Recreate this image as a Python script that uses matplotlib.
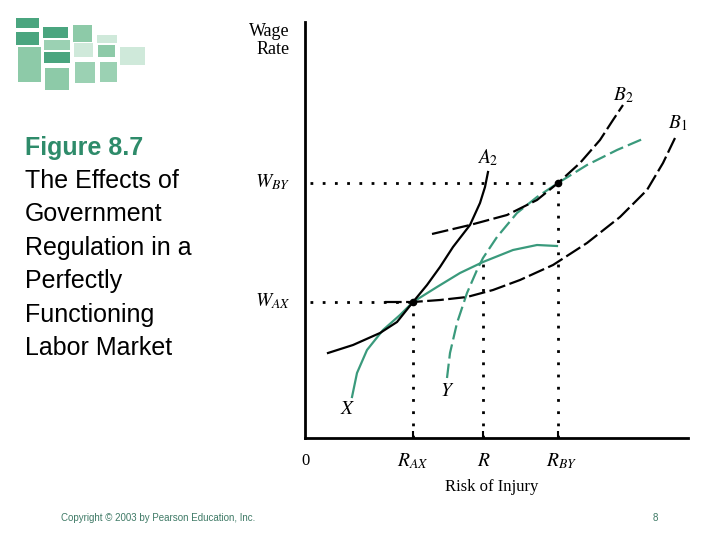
import matplotlib
matplotlib.use('Agg')
import matplotlib.pyplot as plt
from matplotlib.patches import Rectangle

plt.rcParams['mathtext.fontset'] = 'stix'
plt.rcParams['font.family'] = 'Liberation Sans'

green = '#3a9a7c'
title_green = '#2e8b6a'

# curve data (risk of injury, wage rate), arbitrary units
a_risk = [23, 48, 75, 92, 108, 122, 135, 148, 165, 175, 180, 183]
a_wage = [85, 93, 105, 116, 136, 153, 171, 191, 213, 235, 251, 266]

b2_risk = [127, 165, 202, 232, 253, 275, 295, 308, 318]
b2_wage = [204, 213, 223, 238, 255, 275, 298, 318, 333]

b1_risk = [80, 108, 135, 162, 188, 215, 248, 282, 315, 342, 358, 370]
b1_wage = [136, 136, 138, 141, 148, 158, 173, 195, 221, 248, 275, 300]

x_risk = [47, 52, 62, 78, 95, 108, 132, 155, 178, 208, 232, 252]
x_wage = [41, 65, 88, 108, 123, 136, 151, 165, 176, 188, 193, 192]

y_risk = [142, 145, 152, 162, 172, 178, 192, 212, 232, 253, 282, 312, 340]
y_wage = [60, 85, 115, 145, 168, 180, 201, 225, 241, 255, 273, 288, 300]

r_ax, r_mid, r_by = 108, 178, 253
w_ax, w_by = 136, 255
r_top = 180

body_lines = ['The Effects of', 'Government', 'Regulation in a',
              'Perfectly', 'Functioning', 'Labor Market']

# logo tiles: (x, y, w, h) in pixels, colour
logo_tiles = [
    (16, 18, 23, 10, '#4aa57f'), (16, 32, 23, 13, '#4aa57f'),
    (18, 47, 23, 35, '#8dcaa8'),
    (43, 27, 25, 11, '#4aa57f'), (44, 40, 26, 10, '#9bd1b3'),
    (44, 52, 26, 11, '#4aa57f'), (45, 68, 24, 22, '#8dcaa8'),
    (73, 25, 19, 17, '#8dcaa8'), (74, 43, 19, 14, '#cfe9da'),
    (75, 62, 20, 21, '#9bd1b3'),
    (97, 35, 20, 8, '#cfe9da'), (98, 45, 17, 12, '#8dcaa8'),
    (100, 62, 17, 20, '#9bd1b3'),
    (120, 47, 25, 18, '#cfe9da'),
]

W, H = 720, 540
fig = plt.figure(figsize=(7.2, 5.4), dpi=100)

for (x0, y0, w, h, c) in logo_tiles:
    fig.add_artist(Rectangle((x0 / W, 1 - (y0 + h) / H), w / W, h / H,
                             transform=fig.transFigure, facecolor=c,
                             edgecolor='none'))

# left text block
fig.text(25 / W, 1 - 148 / H, 'Figure 8.7', fontsize=18, fontweight='bold',
         color=title_green, va='center', ha='left')
for i, line in enumerate(body_lines):
    fig.text(25 / W, 1 - (181 + 33.4 * i) / H, line, fontsize=18,
             color='black', va='center', ha='left')

fig.text(61 / W, 1 - 518 / H, 'Copyright \u00a9 2003 by Pearson Education, Inc.',
         fontsize=7, color='#3f7a66', va='center', ha='left')
fig.text(655 / W, 1 - 518 / H, '8', fontsize=7, color='#3f7a66',
         va='center', ha='center')

# chart
ax = fig.add_axes([305 / W, 1 - 438 / H, 383 / W, 416 / H])
ax.set_xlim(0, 383)
ax.set_ylim(0, 416)
for s in ['top', 'right']:
    ax.spines[s].set_visible(False)
for s in ['left', 'bottom']:
    ax.spines[s].set_linewidth(2)
ax.set_xticks([r_ax, r_mid, r_by])
ax.set_xticklabels([])
ax.set_yticks([])
ax.tick_params(axis='x', direction='in', length=5, width=1.5)

dot = (0, (1, 3.4))
ax.plot([5, r_ax], [w_ax, w_ax], color='black', lw=2, linestyle=dot, zorder=1)
ax.plot([5, r_by], [w_by, w_by], color='black', lw=2, linestyle=dot, zorder=1)
ax.plot([r_ax, r_ax], [0, w_ax], color='black', lw=2, linestyle=dot, zorder=1)
ax.plot([r_mid, r_mid], [0, r_top], color='black', lw=2, linestyle=dot, zorder=1)
ax.plot([r_by, r_by], [0, w_by], color='black', lw=2, linestyle=dot, zorder=1)

ax.plot(x_risk, x_wage, color=green, lw=1.6, zorder=2)
ax.plot(y_risk, y_wage, color=green, lw=1.6, linestyle=(0, (6.5, 2.3)), zorder=2)
ax.plot(a_risk, a_wage, color='black', lw=1.6, zorder=3)
ax.plot(b2_risk, b2_wage, color='black', lw=1.6, linestyle=(0, (7.5, 2)), zorder=3)
ax.plot(b1_risk, b1_wage, color='black', lw=1.6, linestyle=(0, (7.5, 2)), zorder=3)
ax.plot([r_ax, r_by], [w_ax, w_by], linestyle='none', marker='o',
        markersize=4.5, color='black', zorder=4)

serif = 'Liberation Serif'
kw = dict(ha='center', va='center', clip_on=False)
ax.text(183, 280, '$A_2$', fontsize=14, **kw)
ax.text(318, 343, '$B_2$', fontsize=14, **kw)
ax.text(373, 315, '$B_1$', fontsize=14, **kw)
ax.text(43, 28, '$X$', fontsize=14, **kw)
ax.text(142, 46, '$Y$', fontsize=14, **kw)

ax.text(-32, w_by + 1, '$W_{BY}$', fontsize=14, **kw)
ax.text(-32, w_ax + 1, '$W_{AX}$', fontsize=14, **kw)
ax.text(-15, 407, 'Wage', fontsize=13, family=serif, ha='right', va='center', clip_on=False)
ax.text(-15, 389, 'Rate', fontsize=13, family=serif, ha='right', va='center', clip_on=False)

ax.text(1, -23, '0', fontsize=12, family=serif, **kw)
ax.text(r_ax, -23, '$R_{AX}$', fontsize=14, **kw)
ax.text(r_mid + 1, -23, '$R$', fontsize=14, **kw)
ax.text(r_by + 4, -23, '$R_{BY}$', fontsize=14, **kw)
ax.text(187, -49, 'Risk of Injury', fontsize=12, family=serif, **kw)

fig.savefig('out.png', dpi=100)
